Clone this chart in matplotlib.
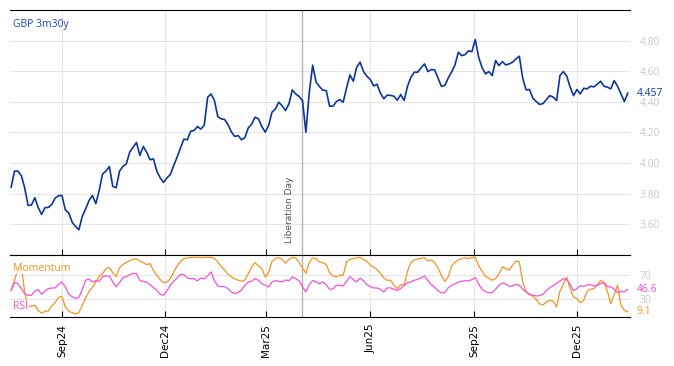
import numpy as np
import pandas as pd
import matplotlib
matplotlib.use("Agg")
import matplotlib.pyplot as plt
import matplotlib.dates as mdates
import matplotlib.transforms as mtrans

start = "2024-07-18"
title = "GBP 3m30y"
event_date = "2025-04-02"
event_label = "Liberation Day"

price = [
    3.843, 3.948, 3.948, 3.919, 3.839, 3.724, 3.726, 3.774, 3.709, 3.665,
    3.709, 3.711, 3.730, 3.772, 3.787, 3.789, 3.695, 3.674, 3.615, 3.587,
    3.565, 3.652, 3.702, 3.756, 3.789, 3.735, 3.822, 3.930, 3.948, 3.978,
    3.848, 3.839, 3.948, 3.978, 3.995, 4.072, 4.104, 4.135, 4.050, 4.109,
    4.072, 4.022, 4.028, 3.948, 3.904, 3.874, 3.904,
    3.926, 3.985, 4.039, 4.100, 4.157, 4.152, 4.209, 4.213, 4.239, 4.222,
    4.248, 4.430, 4.452, 4.409, 4.304, 4.289, 4.285, 4.252, 4.204, 4.174,
    4.180, 4.152, 4.167, 4.230, 4.254, 4.300, 4.289, 4.239, 4.202, 4.246,
    4.333, 4.354, 4.398, 4.374, 4.343, 4.387, 4.478, 4.452, 4.435, 4.409,
    4.202, 4.461, 4.640, 4.530, 4.500,
    4.476, 4.474, 4.372, 4.372, 4.402, 4.415, 4.398, 4.489, 4.576, 4.535,
    4.626, 4.659, 4.598, 4.568, 4.546, 4.504, 4.515, 4.457, 4.420, 4.444,
    4.442, 4.437, 4.411, 4.448, 4.409, 4.502, 4.561, 4.594, 4.594, 4.622,
    4.648, 4.598, 4.611, 4.609, 4.555, 4.502, 4.507, 4.555, 4.594, 4.641,
    4.724, 4.702, 4.709, 4.733,
    4.728, 4.807, 4.691, 4.624, 4.583, 4.598, 4.572, 4.670, 4.637, 4.663,
    4.641, 4.648, 4.659, 4.681, 4.698, 4.555, 4.478, 4.481, 4.424, 4.402,
    4.383, 4.389, 4.415, 4.441, 4.431, 4.409, 4.572, 4.598, 4.568, 4.496,
    4.441, 4.481, 4.452, 4.489, 4.485, 4.502, 4.498, 4.515, 4.535, 4.502,
    4.496, 4.485, 4.539, 4.502, 4.452, 4.402, 4.457,
]

momentum = [
    45.0, 61.7, 81.1, 86.7, 41.1, 17.2, 18.9, 20.0, 11.1, 7.2,
    10.0, 10.6, 18.9, 24.4, 33.3, 35.0, 17.2, 10.0, 7.8, 5.6,
    7.8, 20.0, 32.2, 43.3, 50.0, 58.9, 68.3, 72.8, 81.1, 82.8,
    74.4, 67.8, 82.2, 88.3, 91.1, 94.4, 96.7, 97.2, 93.3, 91.1,
    87.8, 89.4, 77.8, 70.0, 62.8, 57.8, 58.9, 64.4, 75.6, 85.6,
    93.3, 97.8, 98.9, 99.8, 99.8, 100.0, 99.5, 99.8, 100.0, 99.8,
    98.3, 92.2, 84.4, 78.9, 71.7, 67.2, 64.4, 61.7, 60.0, 61.7,
    72.8, 83.9, 91.1, 85.6, 81.1, 67.2, 74.4, 93.3, 97.8, 99.5,
    96.7, 90.0, 96.7, 99.8, 98.9, 91.1, 82.2, 73.3, 91.1, 98.9,
    97.8, 92.2,
    91.1, 87.8, 74.4, 68.9, 67.2, 70.0, 70.0, 92.2, 96.1, 97.8,
    98.9, 99.8, 96.7, 93.3, 86.7, 83.9, 79.4, 73.3, 65.6, 61.7,
    61.7, 53.3, 47.8, 54.4, 53.3, 76.7, 91.1, 95.6, 97.2, 98.3,
    99.4, 93.9, 95.6, 91.7, 82.2, 70.0, 60.0, 67.2, 85.6, 91.7,
    95.6, 97.8, 98.9, 97.8, 99.8, 100.0, 85.6, 76.7, 68.3, 65.0,
    61.7, 64.4, 72.2, 83.9, 81.1, 78.3, 86.7, 93.9, 92.2, 58.9,
    42.2, 37.8, 35.0, 30.0, 22.2, 20.6, 25.6, 28.3, 26.7, 17.2,
    43.3, 55.0, 66.7, 47.8, 33.9, 31.1, 24.4, 28.3, 43.3, 46.7,
    47.8, 53.9, 61.7, 57.8, 43.3, 22.8, 37.8, 53.3, 20.0, 11.7,
    9.1,
]

rsi = [
    45.0, 57.8, 56.1, 47.8, 39.4, 36.7, 36.7, 43.9, 46.1, 38.3,
    43.9, 47.8, 48.9, 48.9, 55.0, 58.9, 50.6, 38.3, 34.4, 31.7,
    32.8, 46.7, 61.7, 63.9, 58.9, 61.1, 60.0, 67.8, 68.9, 68.9,
    58.9, 50.6, 57.8, 66.1, 67.8, 71.1, 73.3, 72.8, 61.1, 60.0,
    58.3, 54.4, 49.4, 45.0, 38.3, 36.7, 44.4, 53.3, 60.0, 65.6,
    71.7, 71.1, 65.6, 64.4, 64.4, 60.6, 65.6, 63.9, 68.9, 75.6,
    61.1, 52.2, 51.1, 51.1, 47.8, 42.2, 39.4, 41.1, 45.6, 53.3,
    58.9, 60.0, 64.4, 61.7, 56.1, 53.3, 50.6, 58.9, 61.1, 60.0,
    58.9, 62.2, 61.1, 67.2, 64.4, 60.6, 50.6, 42.2, 54.4, 61.1,
    58.9, 56.1,
    58.9, 54.4, 46.7, 47.2, 53.3, 53.3, 52.2, 60.0, 67.8, 62.8,
    58.9, 65.6, 61.1, 54.4, 51.1, 48.9, 48.9, 46.7, 42.2, 48.9,
    48.9, 46.7, 45.0, 47.8, 53.3, 57.8, 58.9, 61.7, 63.3, 65.6,
    68.9, 61.7, 54.4, 50.0, 44.4, 40.6, 41.1, 48.9, 53.3, 55.6,
    58.9, 60.0, 61.1, 60.6, 62.8, 66.1, 55.6, 46.7, 42.8, 41.1,
    41.1, 46.7, 53.3, 57.2, 55.6, 51.7, 52.2, 55.0, 53.3, 46.7,
    42.2, 38.9, 36.7, 35.6, 36.1, 38.3, 44.4, 49.4, 52.8, 56.7,
    60.6, 64.4, 62.8, 55.0, 44.4, 47.8, 52.8, 51.1, 53.9, 54.4,
    52.2, 53.3, 56.1, 57.8, 51.1, 50.6, 46.7, 41.1, 43.3, 42.2,
    46.6,
]

BLUE = "#0b36a0"
ORANGE = "#f7931e"
PINK = "#f550dc"
GRID = "#e6e6e6"
LIGHT = "#c8c8c8"

dates = pd.date_range(start, periods=len(price), freq="3D")

fig = plt.figure(figsize=(6.74, 3.66), dpi=100)
W, H = 674, 366
ax = fig.add_axes([10 / W, 1 - 255 / H, 620 / W, 245 / H])
ax2 = fig.add_axes([10 / W, 1 - 317 / H, 620 / W, 62 / H], sharex=ax)

# main panel
ax.plot(dates, price, color=BLUE, lw=1.2)
ax.set_ylim(3.40, 5.00)
ax.set_yticks(np.arange(3.6, 4.81, 0.2))
ax.yaxis.set_major_formatter(plt.FormatStrFormatter("%.2f"))
ax.yaxis.tick_right()
ax.tick_params(axis="y", length=0, pad=7, labelsize=7.5, labelcolor=LIGHT)
for lab in ax.get_yticklabels():
    lab.set_family("Open Sans")
ax.tick_params(axis="x", direction="in", length=4, labelbottom=False)
ax.grid(color=GRID, lw=0.8)
ax.set_axisbelow(True)

# oscillator panel
ax2.plot(dates, momentum, color=ORANGE, lw=0.9)
ax2.plot(dates, rsi, color=PINK, lw=0.9)
ax2.set_ylim(0.5, 103.8)
ax2.set_yticks([30, 70])
ax2.yaxis.tick_right()
ax2.tick_params(axis="y", length=0, pad=7, labelsize=7.5, labelcolor=LIGHT)
for lab in ax2.get_yticklabels():
    lab.set_family("Open Sans")
ax2.grid(color=GRID, lw=0.8)
ax2.set_axisbelow(True)

ax2.xaxis.set_major_locator(mdates.MonthLocator(bymonth=(3, 6, 9, 12)))
ax2.xaxis.set_major_formatter(mdates.DateFormatter("%b%y"))
ax2.tick_params(axis="x", direction="in", length=4, pad=5, labelsize=7.5,
                labelrotation=90)
ax.set_xlim(pd.Timestamp("2024-07-17"), pd.Timestamp("2026-01-17"))

for a in (ax, ax2):
    a.spines["left"].set_visible(False)
    a.spines["right"].set_visible(False)
    a.spines["top"].set_color("black")
    a.spines["bottom"].set_color("black")

# event marker
ev = pd.Timestamp(event_date)
for a in (ax, ax2):
    a.axvline(ev, color="#b4b4b4", lw=1, zorder=1)
off = mtrans.offset_copy(ax.transData, fig=fig, x=-8, y=0, units="dots")
ax.text(ev, 3.478, event_label, rotation=90, ha="right", va="bottom",
        fontsize=6.5, color="#555555", transform=off)

# labels
ax.text(0.005, 0.939, title, transform=ax.transAxes, color="#1f46b0",
        fontsize=7.5, family="Open Sans", va="center", ha="left")
tr1 = mtrans.blended_transform_factory(ax.transAxes, ax.transData)
ax.text(1.011, price[-1], f"{price[-1]:.3f}", transform=tr1, color=BLUE,
        fontsize=7.5, family="Open Sans", va="center")

tr2 = mtrans.blended_transform_factory(ax2.transAxes, ax2.transData)
ax2.text(1.011, rsi[-1], f"{rsi[-1]:.1f}", transform=tr2, color=PINK,
         fontsize=7.5, family="Open Sans", va="center")
ax2.text(1.011, momentum[-1], f"{momentum[-1]:.1f}", transform=tr2,
         color=ORANGE, fontsize=7.5, family="Open Sans", va="center")

box = dict(facecolor="white", edgecolor="none", alpha=0.7, pad=0.5)
ax2.text(0.005, 0.79, "Momentum", transform=ax2.transAxes, color=ORANGE,
         fontsize=7.5, family="Open Sans", va="center", bbox=box)
ax2.text(0.005, 0.177, "RSI", transform=ax2.transAxes, color=PINK,
         fontsize=7.5, family="Open Sans", va="center", bbox=box)

fig.savefig("out.png", dpi=100)
